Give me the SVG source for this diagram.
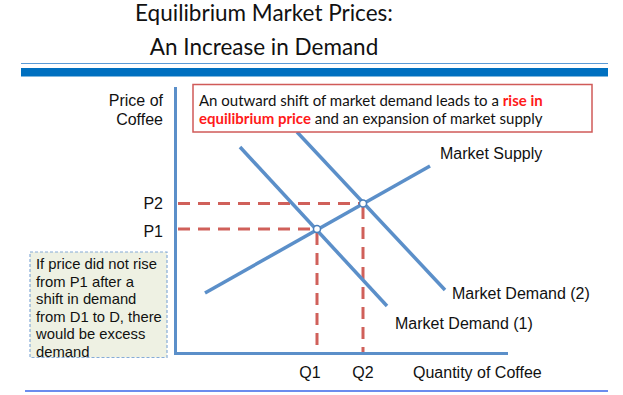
<svg xmlns="http://www.w3.org/2000/svg" width="623" height="395" viewBox="0 0 623 395">
<style>
.title{font-family:Lato,"Liberation Sans",sans-serif;font-size:22.5px;fill:#111;text-anchor:middle}
.lbl{font-family:"Liberation Sans",Arial,sans-serif;font-size:16px;fill:#111}
.note{font-family:"Liberation Sans",Arial,sans-serif;font-size:14.8px;fill:#111}
.box{font-family:Lato,"Liberation Sans",sans-serif;font-size:15px;fill:#111}
.hl{fill:#ff1a1a;font-weight:bold}
.curve{stroke:#5b8fc9;stroke-width:3.5;fill:none;stroke-linecap:butt}
.axis{stroke:#5b8fc9;stroke-width:3;fill:none}
.dash{stroke:#d0605a;stroke-width:3;stroke-dasharray:12 8;fill:none}
.pt{fill:#fff;stroke:#4a7fbb;stroke-width:1.5}
</style>
<rect width="623" height="395" fill="#fff"/>
<g id="header">
<text class="title" x="264" y="21">Equilibrium Market Prices:</text>
<text class="title" x="264" y="55">An Increase in Demand</text>
<line x1="21" y1="63.5" x2="608" y2="63.5" stroke="#5a9ad6" stroke-width="1.2"/>
<rect x="21" y="68" width="587" height="8.5" fill="#0070c0"/>
<line x1="25" y1="391" x2="608" y2="391" stroke="#3a66e8" stroke-width="1.5"/>
</g>
<g id="connectors">
<polyline class="axis" points="175.5,87 175.5,353.5 508,353.5"/>
<line class="dash" x1="178" y1="229" x2="317" y2="229"/>
<line class="dash" x1="178" y1="203.5" x2="363" y2="203.5"/>
<line class="dash" x1="317" y1="233" x2="317" y2="352"/>
<line class="dash" x1="363" y1="207" x2="363" y2="352"/>
<line id="supply" class="curve" x1="205" y1="293" x2="430" y2="166"/>
<line id="demand1" class="curve" x1="240" y1="147" x2="387" y2="306"/>
<line id="demand2" class="curve" x1="297" y1="132" x2="445" y2="290"/>
</g>
<g id="equilibrium1"><circle class="pt" cx="317" cy="229" r="3.5"/></g>
<g id="equilibrium2"><circle class="pt" cx="363" cy="203.5" r="3.5"/></g>
<g id="axis-labels">
<text class="lbl" x="163" y="106" text-anchor="end">Price of</text>
<text class="lbl" x="163" y="125" text-anchor="end">Coffee</text>
<text class="lbl" x="163" y="209" text-anchor="end">P2</text>
<text class="lbl" x="163" y="237" text-anchor="end">P1</text>
<text class="lbl" x="310" y="378" text-anchor="middle">Q1</text>
<text class="lbl" x="363" y="378" text-anchor="middle">Q2</text>
<text class="lbl" x="413" y="378">Quantity of Coffee</text>
</g>
<g id="curve-labels">
<text class="lbl" x="440" y="159">Market Supply</text>
<text class="lbl" x="452" y="299">Market Demand (2)</text>
<text class="lbl" x="395" y="329">Market Demand (1)</text>
</g>
<g id="callout">
<rect x="193" y="84.5" width="399" height="47.5" fill="#fff" stroke="#d05a58" stroke-width="1.5"/>
<text class="box" x="199" y="106">An outward shift of market demand leads to a <tspan class="hl">rise in</tspan></text>
<text class="box" x="199" y="124"><tspan class="hl">equilibrium price</tspan> and an expansion of market supply</text>
</g>
<g id="note">
<rect x="30" y="252" width="137" height="105.5" fill="#eef1e3" stroke="#86acd8" stroke-width="1.2" stroke-dasharray="3 2"/>
<text class="note" x="36" y="269">If price did not rise</text>
<text class="note" x="36" y="286.6">from P1 after a</text>
<text class="note" x="36" y="304.2">shift in demand</text>
<text class="note" x="36" y="321.8">from D1 to D, there</text>
<text class="note" x="36" y="339.4">would be excess</text>
<text class="note" x="36" y="357">demand</text>
</g>
</svg>
